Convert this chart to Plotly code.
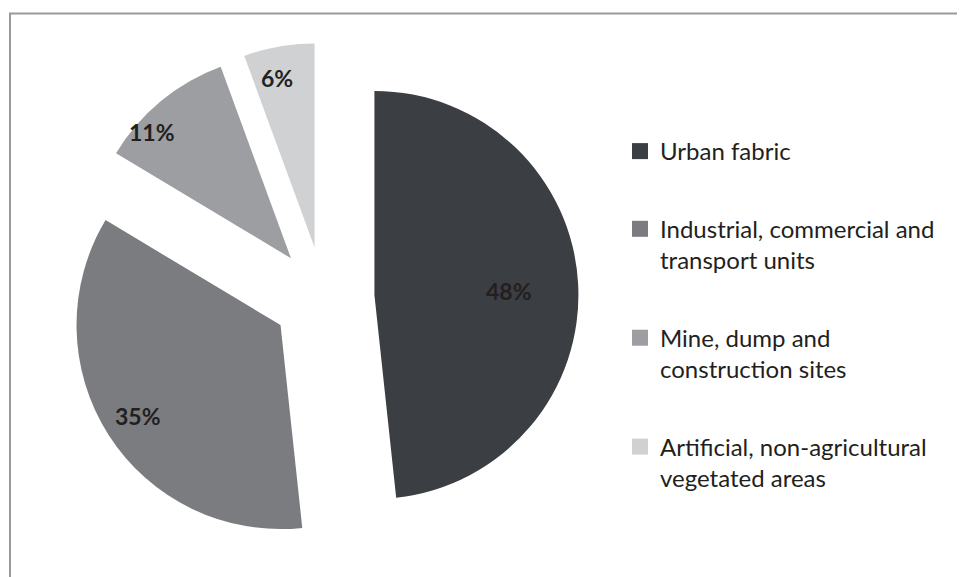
import math
import plotly.graph_objects as go

categories = ["Urban fabric", "Industrial, commercial and transport units",
              "Mine, dump and construction sites", "Artificial, non-agricultural vegetated areas"]
legend_labels = ["Urban fabric", "Industrial, commercial and<br>transport units",
                 "Mine, dump and<br>construction sites", "Artificial, non-agricultural<br>vegetated areas"]
values = [48.3, 35.3, 10.8, 5.6]
colors = ["#3b3e42", "#7b7c80", "#9c9ea2", "#d0d1d3"]

# label placement (style): radial fraction and angular nudge (degrees)
label_frac = [0.66, 0.83, 0.92, 0.85]
label_nudge = [1.5, 0.0, -8.0, -2.3]

W, H = 965, 577
OFF = 8  # page body margin compensation
cx, cy, half = 323.5 - OFF, 297.6 - OFF, 255.0
pull = 0.25
r = half / (1 + pull)

fig = go.Figure()
fig.add_trace(go.Pie(
    labels=categories, values=values, sort=False, direction="clockwise", rotation=0,
    pull=[pull] * 4,
    marker=dict(colors=colors, line=dict(width=0)),
    textinfo="none", showlegend=False,
    domain=dict(x=[(cx - half) / W, (cx + half) / W],
                y=[1 - (cy + half) / H, 1 - (cy - half) / H]),
))
for lab, col in zip(legend_labels, colors):
    fig.add_trace(go.Scatter(
        x=[None], y=[None], mode="markers", name=lab, legendgroup=lab,
        marker=dict(symbol="square", size=16, color=col),
    ))

total = sum(values)
cum = 0.0
annotations = []
for v, f, dth in zip(values, label_frac, label_nudge):
    mid = 2 * math.pi * (cum + v / 2) / total
    cum += v
    vx = cx + pull * r * math.sin(mid)
    vy = cy - pull * r * math.cos(mid)
    a = mid + math.radians(dth)
    lx = vx + f * r * math.sin(a)
    ly = vy - f * r * math.cos(a)
    annotations.append(dict(
        x=lx / W, y=1 - ly / H, xref="paper", yref="paper", showarrow=False,
        text="<b>%d%%</b>" % round(100 * v / total),
        font=dict(family="Lato", size=23, color="#231f20"),
        xanchor="center", yanchor="middle",
    ))

fig.update_layout(
    width=W, height=H, margin=dict(l=0, r=0, t=0, b=0),
    paper_bgcolor="white", plot_bgcolor="white",
    xaxis=dict(visible=False, domain=[0.99, 1]), yaxis=dict(visible=False, domain=[0.99, 1]),
    legend=dict(x=612 / W, y=1 - 121 / H, xanchor="left", yanchor="top",
                font=dict(family="Lato", size=24, color="#231f20"),
                tracegroupgap=43.5, valign="top", bgcolor="rgba(0,0,0,0)"),
    annotations=annotations,
    shapes=[dict(type="rect", xref="paper", yref="paper",
                 x0=2 / W, x1=1.05, y0=-0.05, y1=1 - 5.5 / H,
                 line=dict(color="#9a9a9a", width=2), fillcolor="rgba(0,0,0,0)")],
)
fig.write_html("out.html")
